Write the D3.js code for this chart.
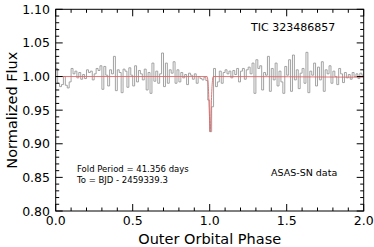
<!DOCTYPE html>
<html>
<head>
<meta charset="utf-8">
<script src="https://cdn.jsdelivr.net/npm/d3@7"></script>
<style>
  body { margin: 0; background: #fff; }
  svg { display: block; font-family: "DejaVu Sans", sans-serif; }
</style>
</head>
<body>
<svg id="chart" width="374" height="247"></svg>
<script>
// binned ASAS-SN flux, one value per phase bin
var binWidth = 0.0125;
var fluxBins = [
  1.012, 0.990, 0.985, 0.988, 1.000, 0.987, 0.983, 0.992,
  1.012, 1.004, 1.008, 0.998, 1.006, 0.996, 1.003, 0.997,
  1.010, 1.006, 1.008, 0.995, 1.004, 1.012, 1.009, 1.016,
  0.981, 1.015, 1.002, 0.986, 1.010, 1.004, 1.030, 0.979,
  1.010, 1.006, 0.976, 1.011, 1.008, 0.984, 1.013, 1.002,
  0.986, 1.016, 0.992, 1.009, 1.004, 0.995, 1.011, 0.980,
  1.006, 0.975, 1.020, 0.993, 1.008, 0.990, 1.004, 1.035,
  0.985, 1.020, 0.990, 1.010, 1.005, 1.022, 0.990, 1.010,
  0.992, 1.006, 0.998, 1.003, 0.988, 1.005, 1.002, 0.996,
  1.004, 0.990, 1.000, 0.997, 0.995, 0.999, 0.994, 0.965,
  0.918, 0.955, 1.012, 0.985, 0.992, 1.008, 0.990, 1.006,
  1.010, 1.004, 1.008, 0.998, 1.009, 1.003, 1.012, 0.992,
  1.008, 1.012, 0.996, 1.010, 1.014, 1.004, 1.020, 0.975,
  1.025, 1.012, 1.016, 0.980, 1.006, 1.002, 1.030, 0.978,
  1.012, 0.995, 1.020, 0.986, 1.008, 0.992, 0.975, 1.015,
  1.002, 1.025, 0.978, 1.032, 0.995, 1.010, 0.982, 1.005,
  1.012, 0.990, 1.036, 0.976, 1.008, 1.002, 1.020, 0.986,
  1.014, 0.995, 1.022, 0.978, 1.010, 1.004, 1.016, 0.990,
  1.008, 1.000, 0.988, 1.012, 1.004, 0.991, 1.006, 0.998,
  1.003, 0.996, 1.006, 1.000, 1.004, 0.997, 1.005, 1.002
];

// model eclipse (red)
var modelPhase = [0, 0.983, 0.991, 0.997, 1.003, 1.009, 1.015, 1.023, 2.0];
var modelFlux  = [1.0, 1.0, 0.985, 0.95, 0.918, 0.95, 0.985, 1.0, 0.999];

var xTicks = [0.0, 0.5, 1.0, 1.5, 2.0];
var yTicks = [0.80, 0.85, 0.90, 0.95, 1.00, 1.05, 1.10];

var pL = 55.7, pR = 363.7, pT = 9.3, pB = 211;
var svg = d3.select('#chart');

var x = d3.scaleLinear().domain([0, 2]).range([pL, pR]);
var y = d3.scaleLinear().domain([0.8, 1.1]).range([pB, pT]);

var binned = fluxBins.map(function(f, i){ return {p: i * binWidth, f: f}; });
binned.push({p: 2.0, f: fluxBins[fluxBins.length - 1]});

svg.append('clipPath').attr('id', 'clip')
  .append('rect').attr('x', pL).attr('y', pT)
  .attr('width', pR - pL).attr('height', pB - pT);

var plot = svg.append('g').attr('clip-path', 'url(#clip)');

plot.append('path')
  .datum(binned)
  .attr('fill', 'none')
  .attr('stroke', '#999')
  .attr('stroke-width', 0.9)
  .attr('d', d3.line()
    .x(function(d){ return x(d.p); })
    .y(function(d){ return y(d.f); })
    .curve(d3.curveStepAfter));

var model = modelPhase.map(function(p, i){ return {p: p, f: modelFlux[i]}; });
plot.append('path')
  .datum(model)
  .attr('fill', 'none')
  .attr('stroke', '#e36464')
  .attr('stroke-width', 0.9)
  .attr('d', d3.line()
    .x(function(d){ return x(d.p); })
    .y(function(d){ return y(d.f); })
    .curve(d3.curveMonotoneX));

// frame with inward ticks on all sides
var minor = 3.5, major = 7;
var g = svg.append('g').attr('stroke', '#000').attr('stroke-width', 1);
g.append('rect').attr('x', pL).attr('y', pT)
  .attr('width', pR - pL).attr('height', pB - pT).attr('fill', 'none');

d3.range(0, 21).forEach(function(k){
  var v = k / 10, len = (k % 5 === 0) ? major : minor;
  g.append('line').attr('x1', x(v)).attr('x2', x(v)).attr('y1', pB).attr('y2', pB - len);
  g.append('line').attr('x1', x(v)).attr('x2', x(v)).attr('y1', pT).attr('y2', pT + len);
});
d3.range(0, 31).forEach(function(k){
  var v = 0.8 + k / 100, len = (k % 5 === 0) ? major : minor;
  g.append('line').attr('y1', y(v)).attr('y2', y(v)).attr('x1', pL).attr('x2', pL + len);
  g.append('line').attr('y1', y(v)).attr('y2', y(v)).attr('x1', pR).attr('x2', pR - len);
});

svg.selectAll('.xlab').data(xTicks).enter().append('text')
  .attr('x', function(d){ return x(d); })
  .attr('y', 225)
  .attr('text-anchor', 'middle')
  .attr('font-size', 12.5)
  .text(function(d){ return d.toFixed(1); });

svg.selectAll('.ylab').data(yTicks).enter().append('text')
  .attr('x', 50)
  .attr('y', function(d){ return y(d) + 4.5; })
  .attr('text-anchor', 'end')
  .attr('font-size', 12.5)
  .text(function(d){ return d.toFixed(2); });

svg.append('text').attr('x', (pL + pR) / 2).attr('y', 244)
  .attr('text-anchor', 'middle').attr('font-size', 14.5)
  .text('Outer Orbital Phase');

svg.append('text').attr('transform', 'translate(17,' + ((pT + pB) / 2) + ') rotate(-90)')
  .attr('text-anchor', 'middle').attr('font-size', 14.5)
  .text('Normalized Flux');

svg.append('text').attr('x', 251).attr('y', 31).attr('font-size', 11)
  .text('TIC 323486857');
svg.append('text').attr('x', 77).attr('y', 172).attr('font-size', 8.5)
  .text('Fold Period = 41.356 days');
svg.append('text').attr('x', 77).attr('y', 182.5).attr('font-size', 8.5)
  .text('To = BJD - 2459339.3');
svg.append('text').attr('x', 271).attr('y', 175.5).attr('font-size', 9.5)
  .text('ASAS-SN data');
</script>
</body>
</html>
